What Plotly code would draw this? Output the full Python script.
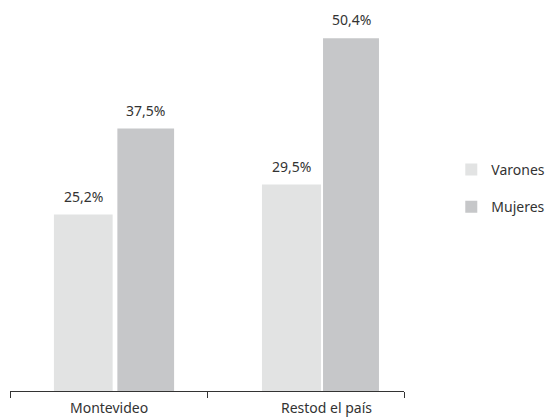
import plotly.graph_objects as go

categories = ["Montevideo", "Restod el país"]
varones = [25.2, 29.5]
mujeres = [37.5, 50.4]
series_names = ["Varones", "Mujeres"]

def fmt(v):
    return f"{v:.1f}".replace(".", ",") + "%"

FONT = "Noto Sans, Open Sans, sans-serif"
TXT = "#333333"
COL_V = "#e2e3e3"
COL_M = "#c6c7c9"

# bar placement (in category units, relative to category centre)
OFF_V = [-0.277, -0.221]
W_V = [0.298, 0.300]
OFF_M = [0.045, 0.089]
W_M = [0.288, 0.284]
LABEL_SHIFT = [0.0, 0.106]

fig = go.Figure()
fig.add_trace(go.Bar(
    x=categories, y=varones, name=series_names[0],
    marker=dict(color=COL_V, line=dict(width=0)),
    offset=OFF_V, width=W_V, legendgroup="v",
))
fig.add_trace(go.Bar(
    x=categories, y=mujeres, name=series_names[1],
    marker=dict(color=COL_M, line=dict(width=0)),
    offset=OFF_M, width=W_M, legendgroup="m",
))

annotations = []
for vals, offs, ws in ((varones, OFF_V, W_V), (mujeres, OFF_M, W_M)):
    for i, v in enumerate(vals):
        annotations.append(dict(
            x=i + offs[i] + ws[i] / 2, y=v, xref="x", yref="y",
            text=fmt(v), showarrow=False, yanchor="bottom", xanchor="center",
            yshift=7, font=dict(size=14, color=TXT, family=FONT),
        ))
for i, c in enumerate(categories):
    annotations.append(dict(
        x=i + LABEL_SHIFT[i], y=0, xref="x", yref="paper",
        text=c, showarrow=False, yanchor="top", xanchor="center",
        yshift=-5, font=dict(size=14, color=TXT, family=FONT),
    ))

fig.update_layout(
    width=549, height=417,
    margin=dict(l=10, r=145, t=0, b=26, autoexpand=False),
    paper_bgcolor="white", plot_bgcolor="white",
    barmode="group",
    font=dict(family=FONT, size=14, color=TXT),
    showlegend=True,
    legend=dict(x=1.12, xanchor="left", y=0.518, yanchor="middle",
                traceorder="grouped", tracegroupgap=16,
                font=dict(size=14, color=TXT, family=FONT),
                bgcolor="rgba(0,0,0,0)"),
    xaxis=dict(showline=True, linecolor=TXT, linewidth=1,
               ticks="outside", tickson="boundaries", ticklen=6,
               tickcolor=TXT, showgrid=False, automargin=False,
               showticklabels=False, range=[-0.5, 1.5]),
    yaxis=dict(range=[0, 55.86], visible=False, showgrid=False, zeroline=False),
    annotations=annotations,
)

fig.write_html("out.html", config={"displayModeBar": False},
               post_script="document.body.style.margin='0';")
